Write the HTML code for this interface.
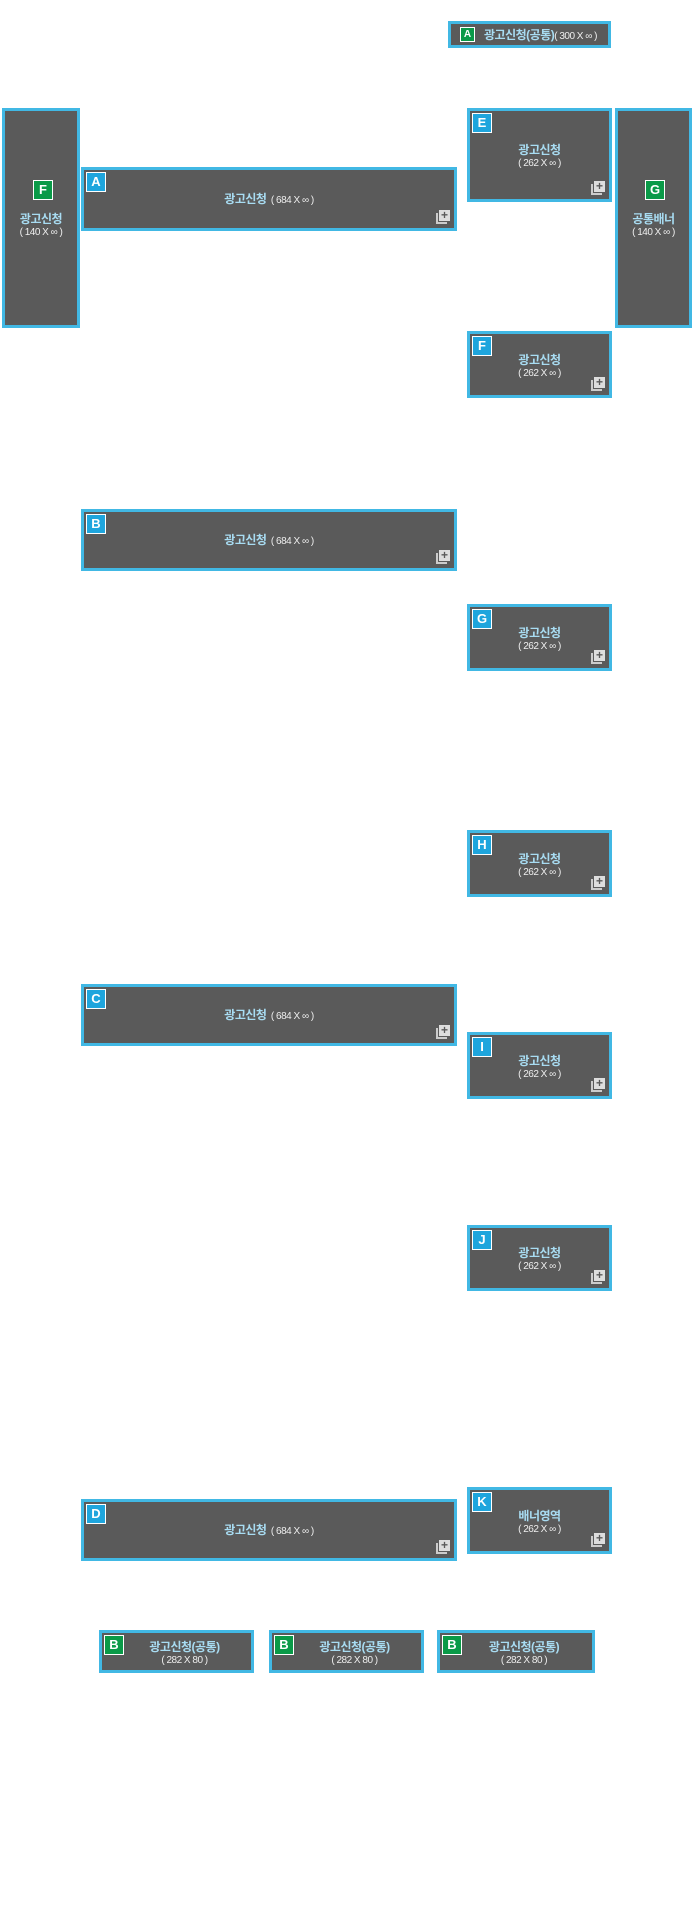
<!DOCTYPE html>
<html><head><meta charset="utf-8"><style>
html,body{margin:0;padding:0;background:#fff;width:694px;height:1911px;overflow:hidden;position:relative;font-family:"Liberation Sans","Noto Sans CJK KR",sans-serif}
.b{position:absolute;box-sizing:border-box;border:3px solid #41b8e4;background:#5a5a5a;}
.bd{position:absolute;left:2px;top:2px;width:20px;height:20px;box-sizing:border-box;border:1px solid #fff;background:#1ea5dd;color:#fff;font-size:13px;font-weight:bold;line-height:18px;text-align:center}
.g{background:#0a9a48}
.c{position:absolute;left:0;right:0;top:50%;transform:translateY(-50%);text-align:center;color:#fff}
.t{color:#a8dcf2;font-weight:bold;font-size:12px;letter-spacing:-0.5px}
.s{font-size:10px;color:#eee;letter-spacing:-0.5px}
.ic{position:absolute;right:4px;bottom:4px;width:14px;height:14px}
.ic:before{content:"";position:absolute;left:0;top:3px;width:9px;height:9px;border-left:2px solid #ccc;border-bottom:2px solid #ccc}
.ic:after{content:"+";position:absolute;left:3px;top:0;width:11px;height:11px;background:#ddd;color:#5a5a5a;font-size:12px;font-weight:bold;line-height:11px;text-align:center}
</style></head><body>

<div class="b" style="left:448px;top:21px;width:163px;height:27px">
<div class="bd g" style="left:9px;top:3px;width:15px;height:15px;font-size:10px;line-height:13px">A</div>
<div class="c" style="left:22px"><span class="t">광고신청(공통)</span><span class="s">( 300 X ∞ )</span></div></div>

<div class="b" style="left:2px;top:108px;width:78px;height:220px">
<div class="bd g" style="left:28px;top:69px">F</div>
<div class="c" style="top:113px"><div class="t">광고신청</div><div class="s">( 140 X ∞ )</div></div></div>

<div class="b" style="left:81px;top:167px;width:376px;height:64px"><div class="bd">A</div>
<div class="c"><span class="t">광고신청</span> <span class="s">( 684 X ∞ )</span></div><div class="ic"></div></div>

<div class="b" style="left:467px;top:108px;width:145px;height:94px"><div class="bd">E</div>
<div class="c"><div class="t">광고신청</div><div class="s">( 262 X ∞ )</div></div><div class="ic"></div></div>

<div class="b" style="left:615px;top:108px;width:77px;height:220px">
<div class="bd g" style="left:27px;top:69px">G</div>
<div class="c" style="top:113px"><div class="t">공통배너</div><div class="s">( 140 X ∞ )</div></div></div>

<div class="b" style="left:467px;top:331px;width:145px;height:67px"><div class="bd">F</div>
<div class="c"><div class="t">광고신청</div><div class="s">( 262 X ∞ )</div></div><div class="ic"></div></div>

<div class="b" style="left:81px;top:509px;width:376px;height:62px"><div class="bd">B</div>
<div class="c"><span class="t">광고신청</span> <span class="s">( 684 X ∞ )</span></div><div class="ic"></div></div>

<div class="b" style="left:467px;top:604px;width:145px;height:67px"><div class="bd">G</div>
<div class="c"><div class="t">광고신청</div><div class="s">( 262 X ∞ )</div></div><div class="ic"></div></div>

<div class="b" style="left:467px;top:830px;width:145px;height:67px"><div class="bd">H</div>
<div class="c"><div class="t">광고신청</div><div class="s">( 262 X ∞ )</div></div><div class="ic"></div></div>

<div class="b" style="left:81px;top:984px;width:376px;height:62px"><div class="bd">C</div>
<div class="c"><span class="t">광고신청</span> <span class="s">( 684 X ∞ )</span></div><div class="ic"></div></div>

<div class="b" style="left:467px;top:1032px;width:145px;height:67px"><div class="bd">I</div>
<div class="c"><div class="t">광고신청</div><div class="s">( 262 X ∞ )</div></div><div class="ic"></div></div>

<div class="b" style="left:467px;top:1225px;width:145px;height:66px"><div class="bd">J</div>
<div class="c"><div class="t">광고신청</div><div class="s">( 262 X ∞ )</div></div><div class="ic"></div></div>

<div class="b" style="left:467px;top:1487px;width:145px;height:67px"><div class="bd">K</div>
<div class="c"><div class="t">배너영역</div><div class="s">( 262 X ∞ )</div></div><div class="ic"></div></div>

<div class="b" style="left:81px;top:1499px;width:376px;height:62px"><div class="bd">D</div>
<div class="c"><span class="t">광고신청</span> <span class="s">( 684 X ∞ )</span></div><div class="ic"></div></div>

<div class="b" style="left:99px;top:1630px;width:155px;height:43px"><div class="bd g">B</div>
<div class="c" style="left:16px"><div class="t">광고신청(공통)</div><div class="s">( 282 X 80 )</div></div></div>
<div class="b" style="left:269px;top:1630px;width:155px;height:43px"><div class="bd g">B</div>
<div class="c" style="left:16px"><div class="t">광고신청(공통)</div><div class="s">( 282 X 80 )</div></div></div>
<div class="b" style="left:437px;top:1630px;width:158px;height:43px"><div class="bd g">B</div>
<div class="c" style="left:16px"><div class="t">광고신청(공통)</div><div class="s">( 282 X 80 )</div></div></div>

</body></html>
